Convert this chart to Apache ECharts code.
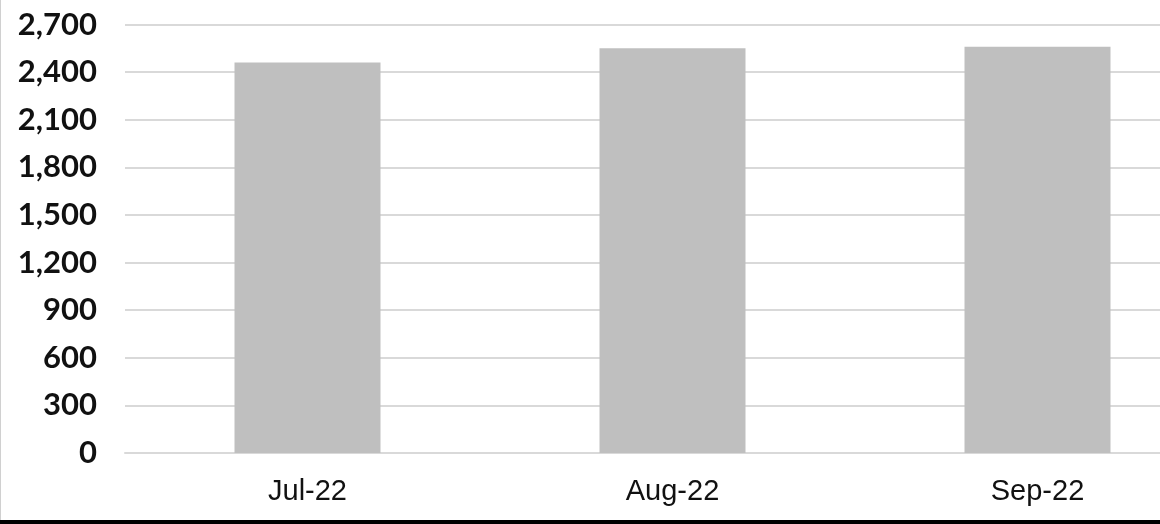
<!DOCTYPE html>
<html><head><meta charset="utf-8">
<script src="https://cdn.jsdelivr.net/npm/echarts@6/dist/echarts.min.js"></script>
<style>html,body{margin:0;padding:0;background:#fff}#c{width:1160px;height:524px}</style>
</head><body><div id="c"></div>
<script>
const categories = ['Jul-22', 'Aug-22', 'Sep-22'];
const values = [2460, 2550, 2560];
const yTicks = [0, 300, 600, 900, 1200, 1500, 1800, 2100, 2400, 2700];

const chart = echarts.init(document.getElementById('c'));
chart.setOption({
  animation: false,
  grid: { left: 125, width: 1095, top: 24.5, bottom: 71, outerBoundsMode: 'none', containLabel: false },
  xAxis: {
    type: 'category', data: categories,
    axisLine: { show: true, lineStyle: { color: '#d9d9d9', width: 2 } },
    axisTick: { show: false },
    axisLabel: { color: '#111', fontFamily: 'Liberation Sans', fontSize: 29, margin: 24 }
  },
  yAxis: {
    type: 'value', min: yTicks[0], max: yTicks[yTicks.length - 1], interval: 300,
    axisLine: { show: false }, axisTick: { show: false },
    splitLine: { lineStyle: { color: '#d9d9d9', width: 2 } },
    axisLabel: {
      color: '#111', fontFamily: 'Lato', fontWeight: 'bold', fontSize: 31, margin: 28,
      formatter: v => v.toLocaleString('en-US')
    }
  },
  series: [{
    type: 'bar', data: values, barWidth: 146,
    itemStyle: { color: '#bfbfbf' }
  }],
  graphic: [
    { type: 'rect', shape: { x: 0, y: 520, width: 1160, height: 4 }, style: { fill: '#000' } },
    { type: 'rect', shape: { x: 0, y: 0, width: 1, height: 520 }, style: { fill: '#d0d0d0' } }
  ]
});
</script></body></html>
